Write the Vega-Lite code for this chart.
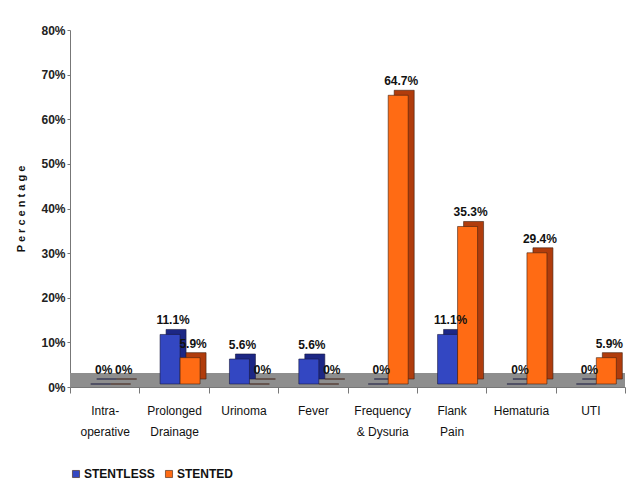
{
  "$schema": "https://vega.github.io/schema/vega-lite/v6.json",
  "autosize": "none",
  "width": 555,
  "height": 357,
  "padding": {"left": 70, "top": 30, "right": 17, "bottom": 111},
  "background": "white",
  "config": {
    "view": {"stroke": null},
    "font": "Liberation Sans, Arial, sans-serif"
  },
  "data": {
    "values": [
      {"cat": "Intra-|operative", "group": "STENTLESS", "value": 0, "label": "0%"},
      {"cat": "Intra-|operative", "group": "STENTED", "value": 0, "label": "0%"},
      {"cat": "Prolonged|Drainage", "group": "STENTLESS", "value": 11.1, "label": "11.1%"},
      {"cat": "Prolonged|Drainage", "group": "STENTED", "value": 5.9, "label": "5.9%"},
      {"cat": "Urinoma", "group": "STENTLESS", "value": 5.6, "label": "5.6%"},
      {"cat": "Urinoma", "group": "STENTED", "value": 0, "label": "0%"},
      {"cat": "Fever", "group": "STENTLESS", "value": 5.6, "label": "5.6%"},
      {"cat": "Fever", "group": "STENTED", "value": 0, "label": "0%"},
      {"cat": "Frequency|& Dysuria", "group": "STENTLESS", "value": 0, "label": "0%"},
      {"cat": "Frequency|& Dysuria", "group": "STENTED", "value": 64.7, "label": "64.7%"},
      {"cat": "Flank|Pain", "group": "STENTLESS", "value": 11.1, "label": "11.1%"},
      {"cat": "Flank|Pain", "group": "STENTED", "value": 35.3, "label": "35.3%"},
      {"cat": "Hematuria", "group": "STENTLESS", "value": 0, "label": "0%"},
      {"cat": "Hematuria", "group": "STENTED", "value": 29.4, "label": "29.4%"},
      {"cat": "UTI", "group": "STENTLESS", "value": 0, "label": "0%"},
      {"cat": "UTI", "group": "STENTED", "value": 5.9, "label": "5.9%"}
    ]
  },
  "encoding": {
    "x": {
      "field": "cat", "type": "nominal", "sort": null,
      "scale": {"paddingInner": 0, "paddingOuter": 0},
      "axis": {
        "title": null, "labelAngle": 0, "labelExpr": "split(datum.label, '|')",
        "labelFontSize": 12, "labelColor": "#111", "labelPadding": 12,
        "domainColor": "#777", "tickColor": "#777", "tickSize": 6, "tickBand": "extent",
        "labelLineHeight": 21
      }
    },
    "y": {
      "field": "value", "type": "quantitative",
      "scale": {"domain": [0, 80]},
      "axis": {
        "title": "P e r c e n t a g e", "titleFontSize": 11, "titleFontWeight": "bold",
        "titlePadding": 14, "titleColor": "#111",
        "values": [0, 10, 20, 30, 40, 50, 60, 70, 80],
        "labelExpr": "datum.value + '%'", "labelFontSize": 12, "labelFontWeight": "bold",
        "labelColor": "#222", "grid": false, "domainColor": "#777", "tickColor": "#777", "tickSize": 3
      }
    }
  },
  "layer": [
    {
      "mark": {"type": "rule", "yOffset": -7, "strokeWidth": 14, "color": "#8e8e8e"},
      "encoding": {"y": {"datum": 0}, "x": null}
    },
    {
      "transform": [{"filter": "datum.group == 'STENTLESS'"}],
      "mark": {"type": "bar", "width": 20, "xOffset": 2, "yOffset": -8, "color": "#1c2785", "stroke": "#1a1a40", "strokeWidth": 0.6}
    },
    {
      "transform": [{"filter": "datum.group == 'STENTLESS'"}],
      "mark": {"type": "bar", "width": 20, "xOffset": -4, "yOffset": -3, "stroke": "#1a1a40", "strokeWidth": 0.6},
      "encoding": {
        "color": {
          "field": "group", "type": "nominal",
          "scale": {"domain": ["STENTLESS", "STENTED"], "range": ["#3347c2", "#ff6b14"]},
          "legend": {
            "title": null, "orient": "none", "legendX": 0, "legendY": 438,
            "direction": "horizontal", "symbolType": "square", "symbolSize": 50,
            "symbolStrokeColor": "#222", "symbolStrokeWidth": 0.6,
            "labelFontSize": 12, "labelFontWeight": "bold", "labelColor": "#111",
            "columnPadding": 8, "labelOffset": 2
          }
        }
      }
    },
    {
      "transform": [{"filter": "datum.group == 'STENTED'"}],
      "mark": {"type": "bar", "width": 20, "xOffset": 22, "yOffset": -8, "color": "#b03c0c", "stroke": "#402010", "strokeWidth": 0.6}
    },
    {
      "transform": [{"filter": "datum.group == 'STENTED'"}],
      "mark": {"type": "bar", "width": 20, "xOffset": 16, "yOffset": -3, "stroke": "#402010", "strokeWidth": 0.6},
      "encoding": {
        "color": {
          "field": "group", "type": "nominal",
          "scale": {"domain": ["STENTLESS", "STENTED"], "range": ["#3347c2", "#ff6b14"]}
        }
      }
    },
    {
      "transform": [{"filter": "datum.group == 'STENTLESS'"}],
      "mark": {"type": "text", "dy": -17, "xOffset": -1, "fontSize": 12, "fontWeight": "bold", "color": "#111"},
      "encoding": {"text": {"field": "label"}}
    },
    {
      "transform": [{"filter": "datum.group == 'STENTED'"}],
      "mark": {"type": "text", "dy": -17, "xOffset": 19, "fontSize": 12, "fontWeight": "bold", "color": "#111"},
      "encoding": {"text": {"field": "label"}}
    }
  ]
}
